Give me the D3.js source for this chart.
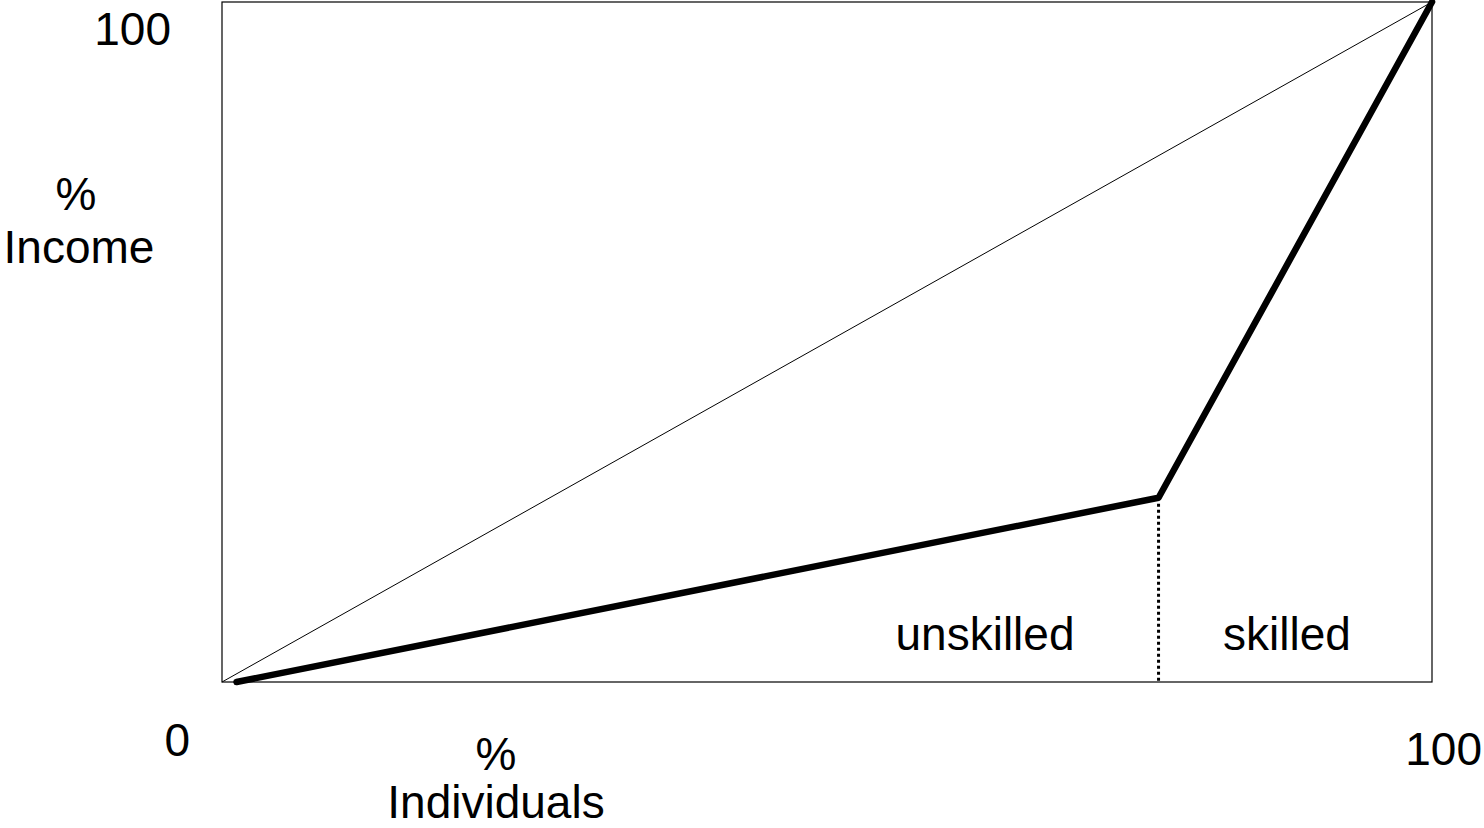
<!DOCTYPE html>
<html><head><meta charset="utf-8">
<script src="https://cdn.jsdelivr.net/npm/d3@7"></script>
<style>body{margin:0;background:#fff}text{font-family:Arial,"Liberation Sans",sans-serif;fill:#000}</style>
</head><body>
<svg id="c" width="1484" height="828"></svg>
<script>
const equalityLine = [[0,0],[100,100]];
const lorenzX = [1.2, 77.4, 100];
const lorenzY = [0, 27.1, 100];
const divider = 77.4;
const tickLabels = ["0","100"];
const groupLabels = ["unskilled","skilled"];

const svg = d3.select("#c");
const x = d3.scaleLinear().domain([0,100]).range([222,1432]);
const y = d3.scaleLinear().domain([0,100]).range([682,2]);
const fs = 46;

svg.append("rect").attr("x",x(0)).attr("y",y(100)).attr("width",x(100)-x(0)).attr("height",y(0)-y(100))
  .attr("fill","none").attr("stroke","#000").attr("stroke-width",1.2);

const line = d3.line().x(d=>x(d[0])).y(d=>y(d[1]));
svg.append("path").attr("d",line(equalityLine)).attr("fill","none").attr("stroke","#000").attr("stroke-width",1);

const lor = lorenzX.map((v,i)=>[v,lorenzY[i]]);
svg.append("path").attr("d",line(lor)).attr("fill","none").attr("stroke","#000")
  .attr("stroke-width",6.5).attr("stroke-linecap","round").attr("stroke-linejoin","round");

svg.append("line").attr("x1",x(divider)).attr("x2",x(divider)).attr("y1",y(lorenzY[1])+6).attr("y2",y(0))
  .attr("stroke","#000").attr("stroke-width",3).attr("stroke-dasharray","3,3");

// axis labels
svg.append("text").attr("x",171).attr("y",45).attr("text-anchor","end").attr("font-size",fs).text(tickLabels[1]);
svg.append("text").attr("x",190).attr("y",756).attr("text-anchor","end").attr("font-size",fs).text(tickLabels[0]);
svg.append("text").attr("x",1482).attr("y",765).attr("text-anchor","end").attr("font-size",fs).text(tickLabels[1]);

svg.append("text").attr("x",76).attr("y",210).attr("text-anchor","middle").attr("font-size",fs).text("%");
svg.append("text").attr("x",79).attr("y",263).attr("text-anchor","middle").attr("font-size",fs).text("Income");
svg.append("text").attr("x",496).attr("y",770).attr("text-anchor","middle").attr("font-size",fs).text("%");
svg.append("text").attr("x",496).attr("y",818).attr("text-anchor","middle").attr("font-size",fs).text("Individuals");

svg.append("text").attr("x",985).attr("y",650).attr("text-anchor","middle").attr("font-size",fs).text(groupLabels[0]);
svg.append("text").attr("x",1287).attr("y",650).attr("text-anchor","middle").attr("font-size",fs).text(groupLabels[1]);
</script>
</body></html>
